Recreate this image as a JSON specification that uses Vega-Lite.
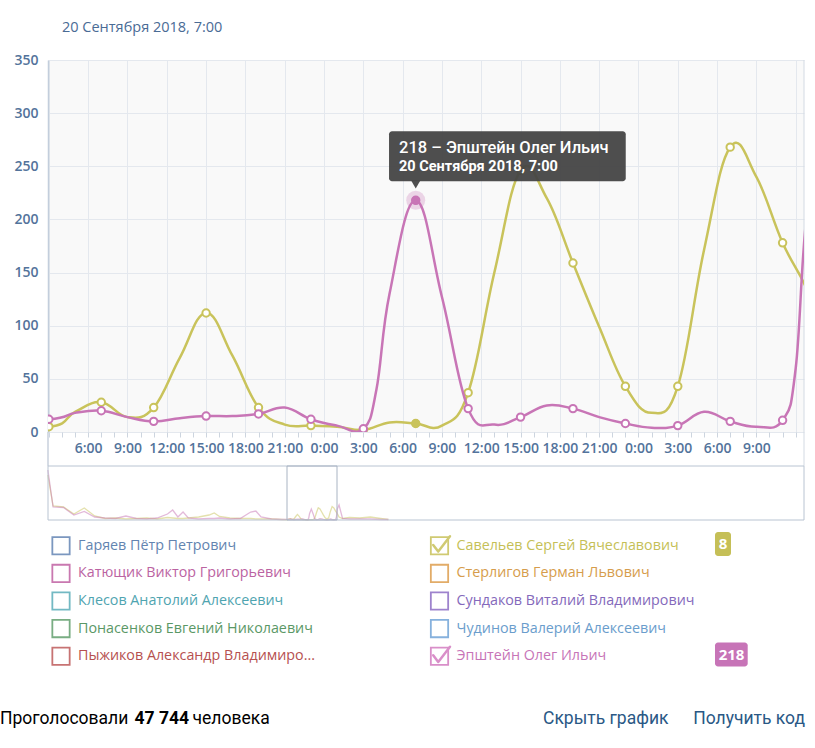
{
"$schema":"https://vega.github.io/schema/vega-lite/v6.json",
"background":"#ffffff",
"width":756,"height":372,
"autosize":{"type":"none"},
"padding":{"left":48,"top":60,"right":11,"bottom":316},
"view":{"fill":"#f9f9f9","stroke":null},
"resolve":{"scale":{"x":"independent","y":"independent","color":"independent","stroke":"independent"}},
"datasets":{
"pts":[
{"day":7,"hour":15,"series":"Савельев Сергей Вячеславович","v":900},{"day":7,"hour":15,"series":"Эпштейн Олег Ильич","v":1000},
{"day":7,"hour":21,"series":"Савельев Сергей Вячеславович","v":280},{"day":7,"hour":21,"series":"Эпштейн Олег Ильич","v":260},
{"day":8,"hour":9,"series":"Савельев Сергей Вячеславович","v":260},{"day":8,"hour":9,"series":"Эпштейн Олег Ильич","v":250},
{"day":8,"hour":21,"series":"Савельев Сергей Вячеславович","v":120},{"day":8,"hour":21,"series":"Эпштейн Олег Ильич","v":100},
{"day":9,"hour":9,"series":"Савельев Сергей Вячеславович","v":240},{"day":9,"hour":9,"series":"Эпштейн Олег Ильич","v":170},
{"day":9,"hour":21,"series":"Савельев Сергей Вячеславович","v":80},{"day":9,"hour":21,"series":"Эпштейн Олег Ильич","v":60},
{"day":10,"hour":9,"series":"Савельев Сергей Вячеславович","v":30},{"day":10,"hour":9,"series":"Эпштейн Олег Ильич","v":40},
{"day":10,"hour":21,"series":"Савельев Сергей Вячеславович","v":40},{"day":10,"hour":21,"series":"Эпштейн Олег Ильич","v":30},
{"day":11,"hour":9,"series":"Савельев Сергей Вячеславович","v":20},{"day":11,"hour":9,"series":"Эпштейн Олег Ильич","v":80},
{"day":11,"hour":21,"series":"Савельев Сергей Вячеславович","v":30},{"day":11,"hour":21,"series":"Эпштейн Олег Ильич","v":30},
{"day":12,"hour":9,"series":"Савельев Сергей Вячеславович","v":40},{"day":12,"hour":9,"series":"Эпштейн Олег Ильич","v":20},
{"day":12,"hour":21,"series":"Савельев Сергей Вячеславович","v":20},{"day":12,"hour":21,"series":"Эпштейн Олег Ильич","v":40},
{"day":13,"hour":9,"series":"Савельев Сергей Вячеславович","v":50},{"day":13,"hour":9,"series":"Эпштейн Олег Ильич","v":120},
{"day":13,"hour":15,"series":"Савельев Сергей Вячеславович","v":40},{"day":13,"hour":15,"series":"Эпштейн Олег Ильич","v":200},
{"day":13,"hour":21,"series":"Савельев Сергей Вячеславович","v":30},{"day":13,"hour":21,"series":"Эпштейн Олег Ильич","v":60},
{"day":14,"hour":3,"series":"Савельев Сергей Вячеславович","v":30},{"day":14,"hour":3,"series":"Эпштейн Олег Ильич","v":160},
{"day":14,"hour":9,"series":"Савельев Сергей Вячеславович","v":40},{"day":14,"hour":9,"series":"Эпштейн Олег Ильич","v":40},
{"day":14,"hour":21,"series":"Савельев Сергей Вячеславович","v":60},{"day":14,"hour":21,"series":"Эпштейн Олег Ильич","v":20},
{"day":15,"hour":9,"series":"Савельев Сергей Вячеславович","v":100},{"day":15,"hour":9,"series":"Эпштейн Олег Ильич","v":30},
{"day":15,"hour":15,"series":"Савельев Сергей Вячеславович","v":140},{"day":15,"hour":15,"series":"Эпштейн Олег Ильич","v":30},
{"day":15,"hour":21,"series":"Савельев Сергей Вячеславович","v":70},{"day":15,"hour":21,"series":"Эпштейн Олег Ильич","v":40},
{"day":16,"hour":9,"series":"Савельев Сергей Вячеславович","v":40},{"day":16,"hour":9,"series":"Эпштейн Олег Ильич","v":20},
{"day":16,"hour":21,"series":"Савельев Сергей Вячеславович","v":30},{"day":16,"hour":21,"series":"Эпштейн Олег Ильич","v":30},
{"day":17,"hour":9,"series":"Савельев Сергей Вячеславович","v":30},{"day":17,"hour":9,"series":"Эпштейн Олег Ильич","v":160},
{"day":17,"hour":15,"series":"Савельев Сергей Вячеславович","v":20},{"day":17,"hour":15,"series":"Эпштейн Олег Ильич","v":180},
{"day":17,"hour":21,"series":"Савельев Сергей Вячеславович","v":20},{"day":17,"hour":21,"series":"Эпштейн Олег Ильич","v":60},
{"day":18,"hour":9,"series":"Савельев Сергей Вячеславович","v":20},{"day":18,"hour":9,"series":"Эпштейн Олег Ильич","v":20},
{"day":18,"hour":21,"series":"Савельев Сергей Вячеславович","v":10},{"day":18,"hour":21,"series":"Эпштейн Олег Ильич","v":10},
{"day":19,"hour":3,"series":"Савельев Сергей Вячеславович","v":5},{"day":19,"hour":3,"series":"Эпштейн Олег Ильич","v":12},
{"day":19,"hour":5,"series":"Савельев Сергей Вячеславович","v":19},{"day":19,"hour":5,"series":"Эпштейн Олег Ильич","v":18},
{"day":19,"hour":7,"series":"Савельев Сергей Вячеславович","v":28},{"day":19,"hour":7,"series":"Эпштейн Олег Ильич","v":20},
{"day":19,"hour":9,"series":"Савельев Сергей Вячеславович","v":14},{"day":19,"hour":9,"series":"Эпштейн Олег Ильич","v":14},
{"day":19,"hour":11,"series":"Савельев Сергей Вячеславович","v":23},{"day":19,"hour":11,"series":"Эпштейн Олег Ильич","v":10},
{"day":19,"hour":13,"series":"Савельев Сергей Вячеславович","v":70},{"day":19,"hour":13,"series":"Эпштейн Олег Ильич","v":13},
{"day":19,"hour":15,"series":"Савельев Сергей Вячеславович","v":112},{"day":19,"hour":15,"series":"Эпштейн Олег Ильич","v":15},
{"day":19,"hour":17,"series":"Савельев Сергей Вячеславович","v":72},{"day":19,"hour":17,"series":"Эпштейн Олег Ильич","v":15},
{"day":19,"hour":19,"series":"Савельев Сергей Вячеславович","v":23},{"day":19,"hour":19,"series":"Эпштейн Олег Ильич","v":17},
{"day":19,"hour":21,"series":"Савельев Сергей Вячеславович","v":7},{"day":19,"hour":21,"series":"Эпштейн Олег Ильич","v":23},
{"day":19,"hour":23,"series":"Савельев Сергей Вячеславович","v":6},{"day":19,"hour":23,"series":"Эпштейн Олег Ильич","v":12},
{"day":20,"hour":1,"series":"Савельев Сергей Вячеславович","v":5},{"day":20,"hour":1,"series":"Эпштейн Олег Ильич","v":6},
{"day":20,"hour":3,"series":"Савельев Сергей Вячеславович","v":2},{"day":20,"hour":3,"series":"Эпштейн Олег Ильич","v":3},
{"day":20,"hour":4,"series":"Эпштейн Олег Ильич","v":40},
{"day":20,"hour":5,"series":"Савельев Сергей Вячеславович","v":9},{"day":20,"hour":5,"series":"Эпштейн Олег Ильич","v":130},
{"day":20,"hour":7,"series":"Савельев Сергей Вячеславович","v":8},{"day":20,"hour":7,"series":"Эпштейн Олег Ильич","v":218},
{"day":20,"hour":9,"series":"Савельев Сергей Вячеславович","v":6},{"day":20,"hour":9,"series":"Эпштейн Олег Ильич","v":127},
{"day":20,"hour":11,"series":"Савельев Сергей Вячеславович","v":37},{"day":20,"hour":11,"series":"Эпштейн Олег Ильич","v":22},
{"day":20,"hour":13,"series":"Савельев Сергей Вячеславович","v":150},{"day":20,"hour":13,"series":"Эпштейн Олег Ильич","v":7},
{"day":20,"hour":15,"series":"Савельев Сергей Вячеславович","v":246},{"day":20,"hour":15,"series":"Эпштейн Олег Ильич","v":14},
{"day":20,"hour":17,"series":"Савельев Сергей Вячеславович","v":220},{"day":20,"hour":17,"series":"Эпштейн Олег Ильич","v":25},
{"day":20,"hour":19,"series":"Савельев Сергей Вячеславович","v":159},{"day":20,"hour":19,"series":"Эпштейн Олег Ильич","v":22},
{"day":20,"hour":21,"series":"Савельев Сергей Вячеславович","v":99},{"day":20,"hour":21,"series":"Эпштейн Олег Ильич","v":14},
{"day":20,"hour":23,"series":"Савельев Сергей Вячеславович","v":43},{"day":20,"hour":23,"series":"Эпштейн Олег Ильич","v":8},
{"day":21,"hour":1,"series":"Савельев Сергей Вячеславович","v":18},{"day":21,"hour":1,"series":"Эпштейн Олег Ильич","v":4},
{"day":21,"hour":3,"series":"Савельев Сергей Вячеславович","v":43},{"day":21,"hour":3,"series":"Эпштейн Олег Ильич","v":6},
{"day":21,"hour":5,"series":"Савельев Сергей Вячеславович","v":171},{"day":21,"hour":5,"series":"Эпштейн Олег Ильич","v":19},
{"day":21,"hour":7,"series":"Савельев Сергей Вячеславович","v":268},{"day":21,"hour":7,"series":"Эпштейн Олег Ильич","v":10},
{"day":21,"hour":9,"series":"Савельев Сергей Вячеславович","v":240},{"day":21,"hour":9,"series":"Эпштейн Олег Ильич","v":5},
{"day":21,"hour":11,"series":"Савельев Сергей Вячеславович","v":178},{"day":21,"hour":11,"series":"Эпштейн Олег Ильич","v":11},
{"day":21,"hour":12,"series":"Эпштейн Олег Ильич","v":60},
{"day":21,"hour":13,"series":"Савельев Сергей Вячеславович","v":130},{"day":21,"hour":13,"series":"Эпштейн Олег Ильич","v":220},
{"day":21,"hour":15,"series":"Савельев Сергей Вячеславович","v":60},{"day":21,"hour":15,"series":"Эпштейн Олег Ильич","v":300},
{"day":21,"hour":19,"series":"Савельев Сергей Вячеславович","v":30},{"day":21,"hour":19,"series":"Эпштейн Олег Ильич","v":30},
{"day":22,"hour":3,"series":"Савельев Сергей Вячеславович","v":50},{"day":22,"hour":3,"series":"Эпштейн Олег Ильич","v":20},
{"day":22,"hour":15,"series":"Савельев Сергей Вячеславович","v":40},{"day":22,"hour":15,"series":"Эпштейн Олег Ильич","v":20},
{"day":23,"hour":3,"series":"Савельев Сергей Вячеславович","v":60},{"day":23,"hour":3,"series":"Эпштейн Олег Ильич","v":20},
{"day":23,"hour":15,"series":"Савельев Сергей Вячеславович","v":30},{"day":23,"hour":15,"series":"Эпштейн Олег Ильич","v":10},
{"day":24,"hour":0,"series":"Савельев Сергей Вячеславович","v":10},{"day":24,"hour":0,"series":"Эпштейн Олег Ильич","v":10}
],
"legend":[
{"name":"Гаряев Пётр Петрович","checked":false},
{"name":"Катющик Виктор Григорьевич","checked":false},
{"name":"Клесов Анатолий Алексеевич","checked":false},
{"name":"Понасенков Евгений Николаевич","checked":false},
{"name":"Пыжиков Александр Владимиро...","checked":false},
{"name":"Савельев Сергей Вячеславович","checked":true,"value":8},
{"name":"Стерлигов Герман Львович","checked":false},
{"name":"Сундаков Виталий Владимирович","checked":false},
{"name":"Чудинов Валерий Алексеевич","checked":false},
{"name":"Эпштейн Олег Ильич","checked":true,"value":218}
]
},
"layer":[
{
"data":{"name":"pts"},
"transform":[{"calculate":"(datum.day - 19) * 24 + datum.hour","as":"h"}],
"encoding":{
"x":{"field":"h","type":"quantitative","scale":{"domain":[2.9333,60.6333],"nice":false,"zero":false},
"axis":{"title":null,"tickCount":58,"labelExpr":"datum.value % 3 === 0 && datum.value > 4 && datum.value < 59 ? (datum.value % 24) + ':00' : ''","labelOverlap":false,"labelFlush":false,"grid":true,"gridColor":"#e4e8ee","gridOpacity":{"condition":{"test":"datum.value % 3 === 0","value":1},"value":0},"domain":false,"ticks":true,"tickColor":"#cdd5df","tickSize":5,"labelFont":"Open Sans","labelFontSize":14,"labelFontWeight":600,"labelColor":"#53739b","labelPadding":4}},
"y":{"field":"v","type":"quantitative","scale":{"domain":[0,350],"nice":false},
"axis":{"title":null,"values":[0,50,100,150,200,250,300,350],"grid":true,"gridColor":"#e4e8ee","domain":true,"domainColor":"#c3cedc","domainWidth":1.5,"ticks":false,"tickSize":0,"labelPadding":10,"labelFont":"Open Sans","labelFontSize":14,"labelFontWeight":600,"labelColor":"#53739b"}}
},
"layer":[
{"transform":[{"filter":"datum.day === 19 && datum.hour === 3 && datum.series === 'Савельев Сергей Вячеславович'"}],
"mark":{"type":"rule","color":"#c8d1dc","strokeWidth":1.5},
"encoding":{"x":{"datum":2.9333,"type":"quantitative"},"y":{"datum":0,"type":"quantitative"},"y2":{"datum":-32}}},
{"transform":[{"filter":"datum.day === 19 && datum.hour === 3 && datum.series === 'Савельев Сергей Вячеславович'"}],
"mark":{"type":"rule","color":"#d3dae3","strokeWidth":1},
"encoding":{"x":{"datum":60.6333,"type":"quantitative"},"y":{"datum":350,"type":"quantitative"},"y2":{"datum":-32}}},
{"transform":[{"filter":{"field":"series","equal":"Савельев Сергей Вячеславович"}}],
"mark":{"type":"line","interpolate":"cardinal","tension":-0.2,"strokeWidth":2.5,"clip":true},
"encoding":{"color":{"field":"series","type":"nominal","scale":{"domain":["Савельев Сергей Вячеславович","Эпштейн Олег Ильич"],"range":["#c9c35b","#c875b6"]},"legend":null}}},
{"transform":[{"filter":{"field":"series","equal":"Савельев Сергей Вячеславович"}},{"filter":"datum.hour % 4 === 3"}],
"mark":{"type":"point","shape":"circle","filled":true,"fill":"#ffffff","strokeWidth":0,"size":55,"opacity":1,"clip":true}},
{"transform":[{"filter":{"field":"series","equal":"Савельев Сергей Вячеславович"}},{"filter":"datum.hour % 4 === 3"}],
"mark":{"type":"point","shape":"circle","filled":false,"strokeWidth":2,"size":55,"opacity":1,"clip":true},
"encoding":{"color":{"field":"series","type":"nominal","scale":{"domain":["Савельев Сергей Вячеславович","Эпштейн Олег Ильич"],"range":["#c9c35b","#c875b6"]},"legend":null}}},
{"transform":[{"filter":{"field":"series","equal":"Эпштейн Олег Ильич"}}],
"mark":{"type":"line","interpolate":"cardinal","tension":-0.2,"strokeWidth":2.5,"clip":true},
"encoding":{"color":{"field":"series","type":"nominal","scale":{"domain":["Савельев Сергей Вячеславович","Эпштейн Олег Ильич"],"range":["#c9c35b","#c875b6"]},"legend":null}}},
{"transform":[{"filter":{"field":"series","equal":"Эпштейн Олег Ильич"}},{"filter":"datum.hour % 4 === 3"}],
"mark":{"type":"point","shape":"circle","filled":true,"fill":"#ffffff","strokeWidth":0,"size":55,"opacity":1,"clip":true}},
{"transform":[{"filter":{"field":"series","equal":"Эпштейн Олег Ильич"}},{"filter":"datum.hour % 4 === 3"}],
"mark":{"type":"point","shape":"circle","filled":false,"strokeWidth":2,"size":55,"opacity":1,"clip":true},
"encoding":{"color":{"field":"series","type":"nominal","scale":{"domain":["Савельев Сергей Вячеславович","Эпштейн Олег Ильич"],"range":["#c9c35b","#c875b6"]},"legend":null}}},
{"transform":[{"filter":"datum.series === 'Савельев Сергей Вячеславович' && datum.day === 20 && datum.hour === 7"}],
"mark":{"type":"point","shape":"circle","filled":true,"size":75,"opacity":1,"clip":true},
"encoding":{"color":{"field":"series","type":"nominal","scale":{"domain":["Савельев Сергей Вячеславович","Эпштейн Олег Ильич"],"range":["#c9c35b","#c875b6"]},"legend":null}}},
{"transform":[{"filter":"datum.series === 'Эпштейн Олег Ильич' && datum.day === 20 && datum.hour === 7"}],
"mark":{"type":"point","shape":"circle","filled":true,"size":360,"opacity":0.28,"clip":true},
"encoding":{"color":{"field":"series","type":"nominal","scale":{"domain":["Савельев Сергей Вячеславович","Эпштейн Олег Ильич"],"range":["#c9c35b","#c875b6"]},"legend":null}}},
{"transform":[{"filter":"datum.series === 'Эпштейн Олег Ильич' && datum.day === 20 && datum.hour === 7"}],
"mark":{"type":"point","shape":"circle","filled":true,"size":70,"opacity":1,"clip":true},
"encoding":{"color":{"field":"series","type":"nominal","scale":{"domain":["Савельев Сергей Вячеславович","Эпштейн Олег Ильич"],"range":["#c9c35b","#c875b6"]},"legend":null}}},
{"transform":[{"filter":"datum.series === 'Эпштейн Олег Ильич' && datum.day === 20 && datum.hour === 7"}],
"mark":{"type":"rect","xOffset":-26.7,"x2Offset":210,"yOffset":-69,"y2Offset":-19,"cornerRadius":3,"fill":"#444444","opacity":0.95},
"encoding":{"x2":{"field":"h"},"y2":{"field":"v"}}},
{"transform":[{"filter":"datum.series === 'Эпштейн Олег Ильич' && datum.day === 20 && datum.hour === 7"}],
"mark":{"type":"point","shape":"triangle-down","filled":true,"fill":"#444444","size":90,"yOffset":-16,"opacity":0.95,"strokeWidth":0}},
{"transform":[{"filter":"datum.series === 'Эпштейн Олег Ильич' && datum.day === 20 && datum.hour === 7"},{"calculate":"datum.v + ' – ' + datum.series","as":"label"}],
"mark":{"type":"text","align":"left","baseline":"alphabetic","dx":-16.7,"dy":-47.7,"font":"Roboto","fontSize":16.5,"fontWeight":500,"color":"#ffffff"},
"encoding":{"text":{"field":"label","type":"nominal"}}},
{"transform":[{"filter":"datum.series === 'Эпштейн Олег Ильич' && datum.day === 20 && datum.hour === 7"}],
"mark":{"type":"text","text":"20 Сентября 2018, 7:00","align":"left","baseline":"alphabetic","dx":-16.7,"dy":-29.3,"font":"Roboto","fontSize":14.5,"fontWeight":"bold","color":"#ffffff"}}
]
},
{
"data":{"name":"pts"},
"transform":[{"calculate":"(datum.day - 19) * 24 + datum.hour","as":"h"}],
"encoding":{
"x":{"field":"h","type":"quantitative","scale":{"domain":[-272.8667,599.5333],"nice":false,"zero":false},"axis":null},
"y":{"field":"v","type":"quantitative","scale":{"domain":[1760,9200],"nice":false,"zero":false},"axis":null}
},
"layer":[
{"mark":{"type":"line","strokeWidth":1.3,"opacity":0.5},
"encoding":{"color":{"field":"series","type":"nominal","scale":{"domain":["Савельев Сергей Вячеславович","Эпштейн Олег Ильич"],"range":["#c9c35b","#c875b6"]},"legend":null}}},
{"transform":[{"filter":"datum.day === 19 && datum.hour === 3 && datum.series === 'Савельев Сергей Вячеславович'"}],
"mark":{"type":"rect","fill":"transparent","stroke":"#b9c4d2","strokeWidth":1},
"encoding":{"x":{"datum":-272.8667,"type":"quantitative"},"x2":{"datum":599.5333},"y":{"datum":0,"type":"quantitative"},"y2":{"datum":1080}}},
{"transform":[{"filter":"datum.day === 19 && datum.hour === 3 && datum.series === 'Савельев Сергей Вячеславович'"}],
"mark":{"type":"rect","fill":"transparent","stroke":"#a9b4c3","strokeWidth":1},
"encoding":{"x":{"datum":2.9333,"type":"quantitative"},"x2":{"datum":60.6333},"y":{"datum":0,"type":"quantitative"},"y2":{"datum":1080}}}
]
},
{
"data":{"name":"legend"},
"transform":[{"window":[{"op":"row_number","as":"i"}]},{"calculate":"floor((datum.i-1)/5)","as":"col"},{"calculate":"(datum.i-1)%5","as":"row"}],
"encoding":{
"x":{"field":"col","type":"quantitative","scale":{"domain":[-0.034346,1.963012],"nice":false,"zero":false},"axis":null},
"y":{"field":"row","type":"quantitative","scale":{"domain":[-17.601,-4.123],"reverse":true,"nice":false,"zero":false},"axis":null}
},
"layer":[
{"mark":{"type":"point","shape":"square","filled":false,"strokeWidth":1.8,"size":300,"opacity":1},
"encoding":{"stroke":{"field":"name","type":"nominal","scale":{"domain":["Гаряев Пётр Петрович","Катющик Виктор Григорьевич","Клесов Анатолий Алексеевич","Понасенков Евгений Николаевич","Пыжиков Александр Владимиро...","Савельев Сергей Вячеславович","Стерлигов Герман Львович","Сундаков Виталий Владимирович","Чудинов Валерий Алексеевич","Эпштейн Олег Ильич"],"range":["#7b97bf","#c978b0","#73b9c3","#79ad83","#c77373","#d0ca72","#e2ac68","#9e83cd","#86b1dd","#d98fc9"]},"legend":null}}},
{"transform":[{"filter":"datum.checked"}],
"mark":{"type":"point","shape":"M-0.6,-0.08L-0.12,0.55L1,-0.9","filled":false,"strokeWidth":2.5,"size":441,"opacity":1,"strokeCap":"round","strokeJoin":"round"},
"encoding":{"stroke":{"field":"name","type":"nominal","scale":{"domain":["Гаряев Пётр Петрович","Катющик Виктор Григорьевич","Клесов Анатолий Алексеевич","Понасенков Евгений Николаевич","Пыжиков Александр Владимиро...","Савельев Сергей Вячеславович","Стерлигов Герман Львович","Сундаков Виталий Владимирович","Чудинов Валерий Алексеевич","Эпштейн Олег Ильич"],"range":["#7b97bf","#c978b0","#73b9c3","#79ad83","#c77373","#d0ca72","#e2ac68","#9e83cd","#86b1dd","#d98fc9"]},"legend":null}}},
{"mark":{"type":"text","align":"left","baseline":"middle","dx":17,"font":"Open Sans","fontSize":14.3},
"encoding":{"text":{"field":"name","type":"nominal"},"color":{"field":"name","type":"nominal","scale":{"domain":["Гаряев Пётр Петрович","Катющик Виктор Григорьевич","Клесов Анатолий Алексеевич","Понасенков Евгений Николаевич","Пыжиков Александр Владимиро...","Савельев Сергей Вячеславович","Стерлигов Герман Львович","Сундаков Виталий Владимирович","Чудинов Валерий Алексеевич","Эпштейн Олег Ильич"],"range":["#6384b0","#bb63a2","#4fa4b0","#5a9866","#b65050","#c5bf57","#d69d4c","#8469bb","#6a9dcc","#c774b7"]},"legend":null}}},
{"transform":[{"filter":"isValid(datum.value) && datum.value < 10"}],
"mark":{"type":"rect","xOffset":275.5,"x2Offset":291.5,"yOffset":-13.7,"y2Offset":10.2,"cornerRadius":3},
"encoding":{"x2":{"field":"col"},"y2":{"field":"row"},"color":{"field":"name","type":"nominal","scale":{"domain":["Гаряев Пётр Петрович","Катющик Виктор Григорьевич","Клесов Анатолий Алексеевич","Понасенков Евгений Николаевич","Пыжиков Александр Владимиро...","Савельев Сергей Вячеславович","Стерлигов Герман Львович","Сундаков Виталий Владимирович","Чудинов Валерий Алексеевич","Эпштейн Олег Ильич"],"range":["#6384b0","#bb63a2","#4fa4b0","#5a9866","#b65050","#c5bf57","#d69d4c","#8469bb","#6a9dcc","#c774b7"]},"legend":null}}},
{"transform":[{"filter":"isValid(datum.value) && datum.value >= 10"}],
"mark":{"type":"rect","xOffset":275.5,"x2Offset":308.2,"yOffset":-13.7,"y2Offset":10.2,"cornerRadius":3},
"encoding":{"x2":{"field":"col"},"y2":{"field":"row"},"color":{"field":"name","type":"nominal","scale":{"domain":["Гаряев Пётр Петрович","Катющик Виктор Григорьевич","Клесов Анатолий Алексеевич","Понасенков Евгений Николаевич","Пыжиков Александр Владимиро...","Савельев Сергей Вячеславович","Стерлигов Герман Львович","Сундаков Виталий Владимирович","Чудинов Валерий Алексеевич","Эпштейн Олег Ильич"],"range":["#6384b0","#bb63a2","#4fa4b0","#5a9866","#b65050","#c5bf57","#d69d4c","#8469bb","#6a9dcc","#c774b7"]},"legend":null}}},
{"transform":[{"filter":"isValid(datum.value) && datum.value < 10"}],
"mark":{"type":"text","align":"center","baseline":"middle","dx":283.5,"dy":-1.5,"font":"Open Sans","fontSize":15,"fontWeight":"bold","color":"#ffffff"},
"encoding":{"text":{"field":"value","type":"quantitative"}}},
{"transform":[{"filter":"isValid(datum.value) && datum.value >= 10"}],
"mark":{"type":"text","align":"center","baseline":"middle","dx":292,"dy":-1.5,"font":"Open Sans","fontSize":15,"fontWeight":"bold","color":"#ffffff"},
"encoding":{"text":{"field":"value","type":"quantitative"}}}
]
},
{
"data":{"values":[{}]},
"layer":[
{"mark":{"type":"text","text":"20 Сентября 2018, 7:00","align":"left","baseline":"middle","dx":-364,"dy":-218,"font":"Open Sans","fontSize":14.5,"color":"#4a6b95"},"encoding":{}},
{"mark":{"type":"text","text":"Проголосовали","align":"left","baseline":"middle","dx":-426,"dy":473,"font":"Roboto","fontSize":17.5,"color":"#000000"},"encoding":{}},
{"mark":{"type":"text","text":"47 744","align":"left","baseline":"middle","dx":-291.5,"dy":473,"font":"Roboto","fontSize":17.5,"fontWeight":"bold","color":"#000000"},"encoding":{}},
{"mark":{"type":"text","text":"человека","align":"left","baseline":"middle","dx":-233.5,"dy":473,"font":"Roboto","fontSize":17.5,"color":"#000000"},"encoding":{}},
{"mark":{"type":"text","text":"Скрыть график","align":"left","baseline":"middle","dx":117,"dy":473,"font":"Roboto","fontSize":17.5,"color":"#2a5885"},"encoding":{}},
{"mark":{"type":"text","text":"Получить код","align":"right","baseline":"middle","dx":379,"dy":473,"font":"Roboto","fontSize":17.5,"color":"#2a5885"},"encoding":{}}
]
}
]
}
